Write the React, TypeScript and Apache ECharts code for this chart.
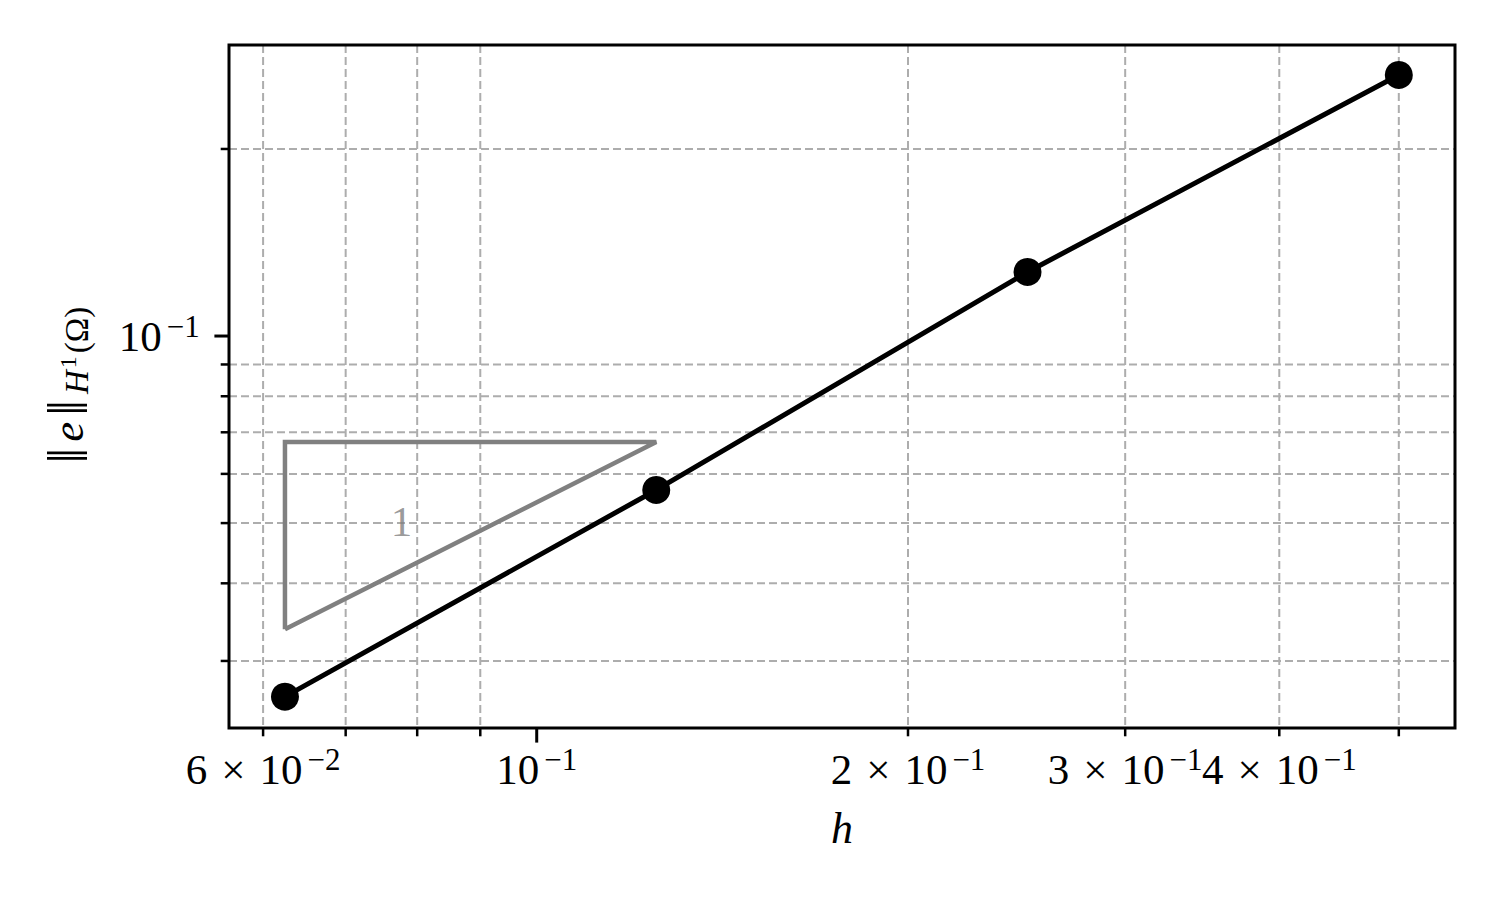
import { useEffect, useRef } from 'react';
import * as echarts from 'echarts';

// ---- data ----
const hValues = [0.0625, 0.125, 0.25, 0.5];
const errorValues = [0.02628, 0.05653, 0.1268, 0.2631];

const triangleH = [0.0625, 0.125, 0.0625, 0.0625];
const triangleE = [0.03375, 0.0675, 0.0675, 0.03375];
const slopeLabelText = '1';
const slopeLabelPos = [0.0777, 0.0503];

const xRange = [0.0563, 0.5553];
const yRange = [0.0234, 0.294];

const xMajorTicks = [0.1];
const xMinorTicks = [0.06, 0.07, 0.08, 0.09, 0.2, 0.3, 0.4, 0.5];
const xLabelValues = [0.06, 0.1, 0.2, 0.3, 0.4];
const xLabelMantissas = ['6', '', '2', '3', '4'];
const xLabelExponents = ['−2', '−1', '−1', '−1', '−1'];

const yMajorTicks = [0.1];
const yMinorTicks = [0.03, 0.04, 0.05, 0.06, 0.07, 0.08, 0.09, 0.2];
const yLabelValues = [0.1];
const yLabelMantissas = [''];
const yLabelExponents = ['−1'];

const FONT = "'Liberation Serif', 'DejaVu Serif', serif";
const MAJOR_LEN = 14.6;
const MINOR_LEN = 8.3;
const PAD = 14.6;

const sciRich: any = {
  n: { fontSize: 43, fontFamily: FONT, lineHeight: 50, verticalAlign: 'middle', fill: '#000' },
  x: { fontSize: 43, fontFamily: FONT, lineHeight: 50, verticalAlign: 'middle', padding: [0, 14, 0, 14], fill: '#000' },
  s: { fontSize: 31, fontFamily: FONT, lineHeight: 32, verticalAlign: 'top', padding: [0, 0, 0, 5], fill: '#000' },
};

function sciText(m: string, e: string) {
  return m ? `{n|${m}}{x|×}{n|10}{s|${e}}` : `{n|10}{s|${e}}`;
}

export default function App() {
  const ref = useRef<HTMLDivElement>(null);

  useEffect(() => {
    const el = ref.current!;
    const chart = echarts.init(el, null, { renderer: 'svg', width: 1500, height: 900 });

    const option: any = {
      animation: false,
      backgroundColor: '#ffffff',
      grid: {
        left: 229,
        top: 45,
        right: 45,
        bottom: 172,
        show: true,
        borderColor: '#000',
        borderWidth: 3,
        backgroundColor: 'transparent',
        containLabel: false,
        outerBoundsMode: 'none',
      },
      xAxis: {
        type: 'log',
        logBase: 10,
        min: xRange[0],
        max: xRange[1],
        axisLine: { show: false },
        axisTick: { show: false },
        axisLabel: { show: false },
        splitLine: { show: false },
      },
      yAxis: {
        type: 'log',
        logBase: 10,
        min: yRange[0],
        max: yRange[1],
        axisLine: { show: false },
        axisTick: { show: false },
        axisLabel: { show: false },
        splitLine: { show: false },
      },
      series: [
        {
          type: 'line',
          data: triangleH.map((h, i) => [h, triangleE[i]]),
          symbol: 'none',
          silent: true,
          lineStyle: { color: '#808080', width: 4.5, join: 'miter', cap: 'butt' },
          z: 2,
        },
        {
          type: 'scatter',
          data: [slopeLabelPos],
          symbolSize: 1,
          silent: true,
          itemStyle: { color: 'rgba(0,0,0,0)' },
          label: {
            show: true,
            position: 'inside',
            formatter: slopeLabelText,
            color: '#808080',
            textBorderWidth: 0,
            textBorderColor: 'transparent',
            fontSize: 43,
            fontFamily: FONT,
          },
          z: 3,
        },
        {
          type: 'line',
          data: hValues.map((h, i) => [h, errorValues[i]]),
          symbol: 'circle',
          symbolSize: 28,
          itemStyle: { color: '#000' },
          lineStyle: { color: '#000', width: 5 },
          z: 4,
        },
      ],
    };
    chart.setOption(option);

    const toPx = (x: number, y: number) => chart.convertToPixel({ gridIndex: 0 }, [x, y]) as number[];
    const [left, bottom] = toPx(xRange[0], yRange[0]);
    const [right, top] = toPx(xRange[1], yRange[1]);

    const elements: any[] = [];
    const gridStyle = { stroke: '#adadad', lineWidth: 2, lineDash: [8, 4] };
    xMinorTicks.forEach((v) => {
      const X = toPx(v, yRange[0])[0];
      elements.push({ type: 'line', silent: true, z: -1, shape: { x1: X, y1: top, x2: X, y2: bottom }, style: gridStyle });
    });
    yMinorTicks.forEach((v) => {
      const Y = toPx(xRange[0], v)[1];
      elements.push({ type: 'line', silent: true, z: -1, shape: { x1: left, y1: Y, x2: right, y2: Y }, style: gridStyle });
    });
    const tickStyle = { stroke: '#000', lineWidth: 3 };
    xMajorTicks.forEach((v) => {
      const X = toPx(v, yRange[0])[0];
      elements.push({ type: 'line', silent: true, shape: { x1: X, y1: bottom, x2: X, y2: bottom + MAJOR_LEN }, style: tickStyle });
    });
    xMinorTicks.forEach((v) => {
      const X = toPx(v, yRange[0])[0];
      elements.push({ type: 'line', silent: true, shape: { x1: X, y1: bottom, x2: X, y2: bottom + MINOR_LEN }, style: { stroke: '#000', lineWidth: 2.5 } });
    });
    yMajorTicks.forEach((v) => {
      const Y = toPx(xRange[0], v)[1];
      elements.push({ type: 'line', silent: true, shape: { x1: left - MAJOR_LEN, y1: Y, x2: left, y2: Y }, style: tickStyle });
    });
    yMinorTicks.forEach((v) => {
      const Y = toPx(xRange[0], v)[1];
      elements.push({ type: 'line', silent: true, shape: { x1: left - MINOR_LEN, y1: Y, x2: left, y2: Y }, style: { stroke: '#000', lineWidth: 2.5 } });
    });

    xLabelValues.forEach((v, i) => {
      const X = toPx(v, yRange[0])[0];
      elements.push({
        type: 'text',
        silent: true,
        x: X,
        y: bottom + MAJOR_LEN + PAD + 12,
        style: {
          text: sciText(xLabelMantissas[i], xLabelExponents[i]),
          rich: sciRich,
          align: 'center',
          textAlign: 'center',
          verticalAlign: 'middle',
          textVerticalAlign: 'middle',
          fill: '#000',
        },
      });
    });
    yLabelValues.forEach((v, i) => {
      const Y = toPx(xRange[0], v)[1];
      elements.push({
        type: 'text',
        silent: true,
        x: left - MAJOR_LEN - PAD,
        y: Y,
        style: {
          text: sciText(yLabelMantissas[i], yLabelExponents[i]),
          rich: sciRich,
          align: 'right',
          textAlign: 'right',
          verticalAlign: 'middle',
          textVerticalAlign: 'middle',
          fill: '#000',
        },
      });
    });

    // axis titles
    elements.push({
      type: 'text',
      silent: true,
      x: (left + right) / 2,
      y: 828,
      style: {
        text: 'h',
        fontSize: 44,
        fontFamily: FONT,
        fontStyle: 'italic',
        align: 'center',
        textAlign: 'center',
        verticalAlign: 'middle',
        textVerticalAlign: 'middle',
        fill: '#000',
      },
    });
    elements.push({
      type: 'text',
      silent: true,
      x: 68,
      y: (top + bottom) / 2,
      rotation: Math.PI / 2,
      style: {
        text: '{n|‖}{i|e}{n|‖}{si|H}{ss|1}{sp|(Ω)}',
        align: 'center',
        textAlign: 'center',
        verticalAlign: 'middle',
        textVerticalAlign: 'middle',
        fill: '#000',
        rich: {
          n: { fontSize: 56, fontFamily: FONT, lineHeight: 50, verticalAlign: 'middle', padding: [0, 3, 0, 3], fill: '#000' },
          i: { fontSize: 45, fontFamily: FONT, fontStyle: 'italic', lineHeight: 50, verticalAlign: 'middle', padding: [0, 3, 0, 3], fill: '#000' },
          si: { fontSize: 33, fontFamily: FONT, fontStyle: 'italic', lineHeight: 30, verticalAlign: 'bottom', padding: [0, 2, 0, 3], fill: '#000' },
          ss: { fontSize: 24, fontFamily: FONT, lineHeight: 50, verticalAlign: 'middle', padding: [0, 3, 0, 0], fill: '#000' },
          sp: { fontSize: 33, fontFamily: FONT, lineHeight: 30, verticalAlign: 'bottom', fill: '#000' },
        },
      },
    });

    chart.setOption({ graphic: { elements } });

    return () => {
      chart.dispose();
    };
  }, []);

  return (
    <div
      ref={ref}
      style={{ position: 'absolute', left: 0, top: 0, width: 1500, height: 900, background: '#fff' }}
    />
  );
}
